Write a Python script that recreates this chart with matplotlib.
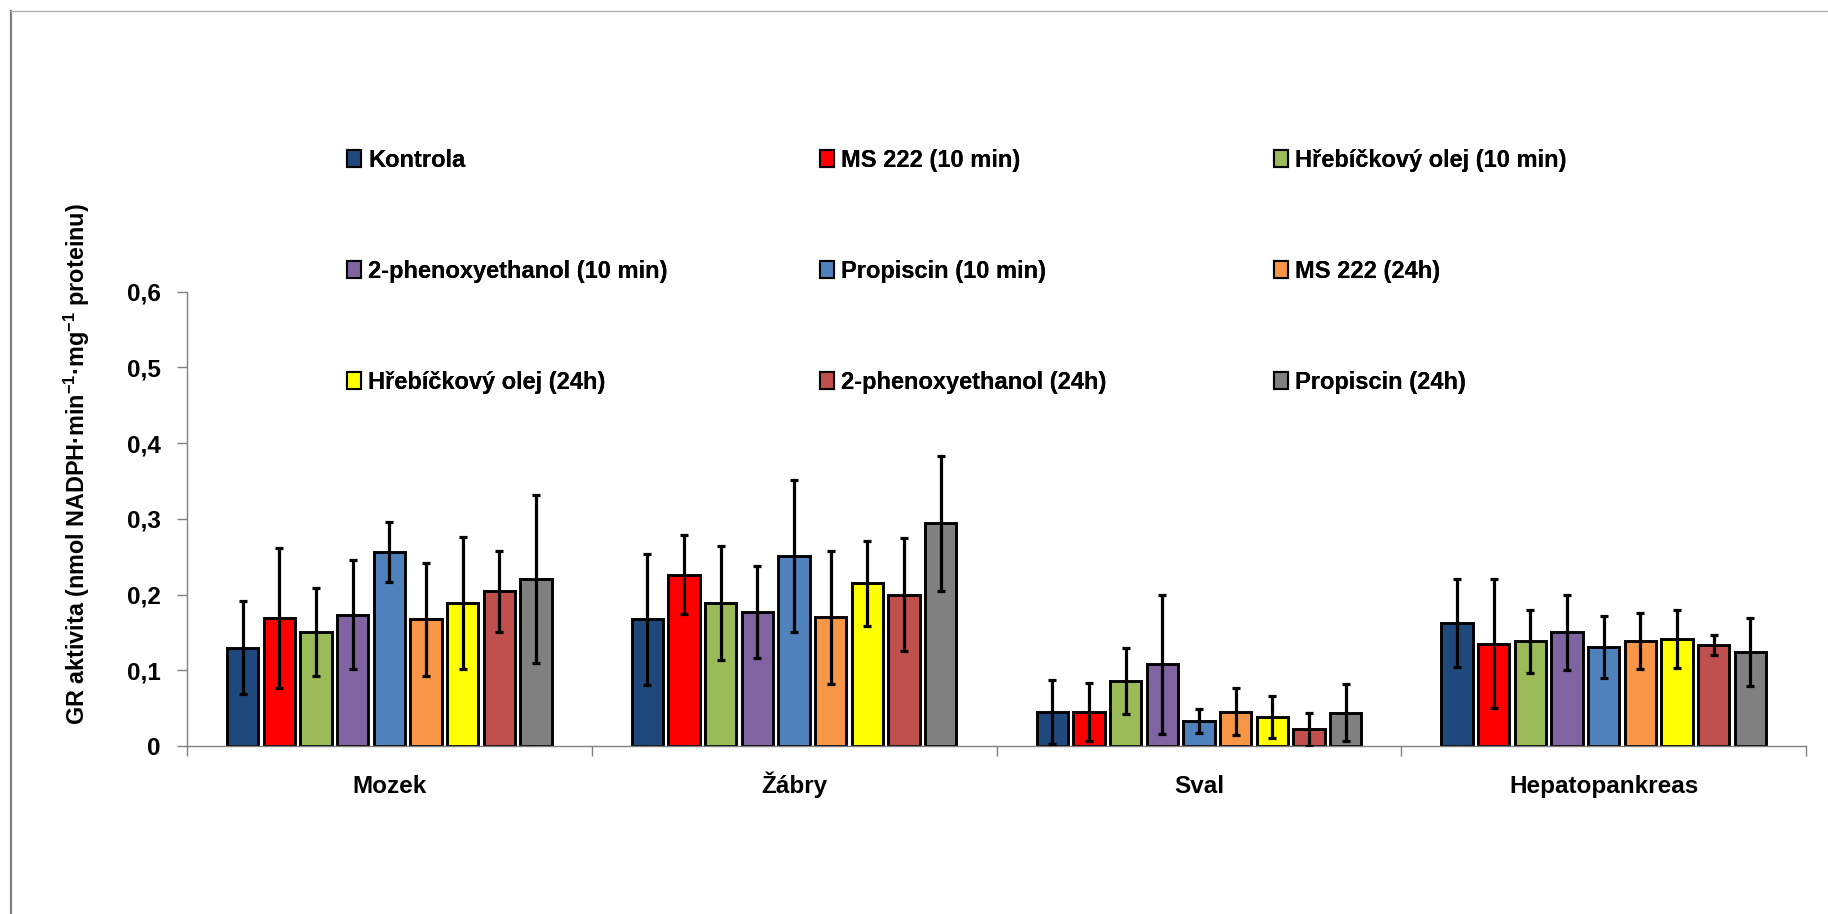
import matplotlib
matplotlib.use('Agg')
import matplotlib.pyplot as plt
import matplotlib.patches as mpatches
from matplotlib.lines import Line2D
import numpy as np

plt.rcParams['font.family'] = ['Liberation Sans', 'DejaVu Sans']
plt.rcParams['font.weight'] = 'bold'
plt.rcParams['mathtext.fontset'] = 'custom'
plt.rcParams['mathtext.rm'] = 'Liberation Sans:bold'
plt.rcParams['mathtext.it'] = 'Liberation Sans:bold'
plt.rcParams['mathtext.bf'] = 'Liberation Sans:bold'

organs = ['Mozek', 'Žábry', 'Sval', 'Hepatopankreas']
series = ['Kontrola', 'MS 222 (10 min)', 'Hřebíčkový olej (10 min)',
          '2-phenoxyethanol (10 min)', 'Propiscin (10 min)', 'MS 222 (24h)',
          'Hřebíčkový olej (24h)', '2-phenoxyethanol (24h)', 'Propiscin (24h)']
colors = ['#1F497D', '#FF0000', '#9BBB59', '#8064A2', '#4F81BD',
          '#F79646', '#FFFF00', '#C0504D', '#808080']

# mean values per organ (Mozek, Zabry, Sval, Hepatopankreas)
kontrola = [0.130, 0.167, 0.045, 0.162]
ms222_10 = [0.169, 0.226, 0.045, 0.135]
hreb_10 = [0.150, 0.189, 0.086, 0.138]
phen_10 = [0.173, 0.177, 0.108, 0.150]
prop_10 = [0.256, 0.251, 0.033, 0.131]
ms222_24 = [0.167, 0.170, 0.045, 0.138]
hreb_24 = [0.189, 0.215, 0.038, 0.141]
phen_24 = [0.204, 0.200, 0.022, 0.133]
prop_24 = [0.221, 0.294, 0.044, 0.124]

# standard deviations
kontrola_sd = [0.062, 0.086, 0.042, 0.058]
ms222_10_sd = [0.092, 0.052, 0.038, 0.085]
hreb_10_sd = [0.058, 0.075, 0.044, 0.041]
phen_10_sd = [0.072, 0.061, 0.092, 0.050]
prop_10_sd = [0.040, 0.100, 0.016, 0.041]
ms222_24_sd = [0.075, 0.088, 0.031, 0.037]
hreb_24_sd = [0.087, 0.056, 0.028, 0.038]
phen_24_sd = [0.054, 0.074, 0.022, 0.013]
prop_24_sd = [0.111, 0.089, 0.038, 0.045]

yticks = [0, 0.1, 0.2, 0.3, 0.4, 0.5, 0.6]
ytick_labels = ['0', '0,1', '0,2', '0,3', '0,4', '0,5', '0,6']

means = [kontrola, ms222_10, hreb_10, phen_10, prop_10, ms222_24, hreb_24, phen_24, prop_24]
sds = [kontrola_sd, ms222_10_sd, hreb_10_sd, phen_10_sd, prop_10_sd,
       ms222_24_sd, hreb_24_sd, phen_24_sd, prop_24_sd]

fig = plt.figure(figsize=(18.28, 9.14), dpi=100)
ax = fig.add_axes([187 / 1828, 168 / 914, 1619 / 1828, 454.5 / 914])

step = 0.0906
width = 0.0775
centers = np.arange(len(organs)) + 0.5
for j in range(len(series)):
    x = centers + (j - 4) * step
    ax.bar(x, means[j], width=width, color=colors[j], edgecolor='black',
           linewidth=2.1, zorder=2)
    ax.errorbar(x, means[j], yerr=sds[j], fmt='none', ecolor='black',
                elinewidth=2.3, capsize=3.2, capthick=2.3, zorder=3)

ax.set_xlim(0, 4)
ax.set_ylim(0, 0.6)
ax.set_yticks(yticks)
ax.set_yticklabels(ytick_labels, fontsize=17.5, fontweight='bold')
ax.set_xticks([0, 1, 2, 3, 4])
ax.set_xticklabels([])
ax.set_xticks(centers, minor=True)
ax.set_xticklabels(organs, minor=True, fontsize=17.5, fontweight='bold')
for lab in ax.get_xticklabels(minor=True):
    lab.set_va('baseline')
ax.tick_params(axis='x', which='major', direction='out', length=7, width=1, color='#808080')
ax.tick_params(axis='x', which='minor', length=0, pad=34)
ax.tick_params(axis='y', direction='out', length=7, width=1, color='#808080', pad=12)
for s in ['top', 'right']:
    ax.spines[s].set_visible(False)
for s in ['left', 'bottom']:
    ax.spines[s].set_color('#808080')
    ax.spines[s].set_linewidth(1)

fig.text(77 / 1828, 1 - 464 / 914,
         'GR aktivita (nmol NADPH·min$^{-1}$·mg$^{-1}$ proteinu)',
         rotation=90, ha='center', va='center', fontsize=16.8, fontweight='bold')

# legend: three columns, each its own legend so the columns sit where Excel put them
handles = [mpatches.Patch(facecolor=colors[k], edgecolor='black', linewidth=1.5)
           for k in range(len(series))]
col_x = [347, 820, 1274]
for c in range(3):
    idx = [c, c + 3, c + 6]
    leg = fig.legend([handles[k] for k in idx], [series[k] for k in idx],
                     ncol=1, loc='upper left',
                     bbox_to_anchor=(col_x[c] / 1828, 1 - 149 / 914),
                     frameon=False, borderaxespad=0, borderpad=0,
                     prop={'size': 17, 'weight': 'bold'},
                     handlelength=0.6, handleheight=0.7, handletextpad=0.3,
                     labelspacing=3.72)
    fig.add_artist(leg)

# outer frame
fig.add_artist(Line2D([11 / 1828, 11 / 1828], [0, 1 - 11 / 914], color='#808080',
                      linewidth=1.6, transform=fig.transFigure))
fig.add_artist(Line2D([11 / 1828, 1], [1 - 11 / 914, 1 - 11 / 914], color='#B0B0B0',
                      linewidth=1, transform=fig.transFigure))

fig.savefig('out.png', dpi=100, facecolor='white')
